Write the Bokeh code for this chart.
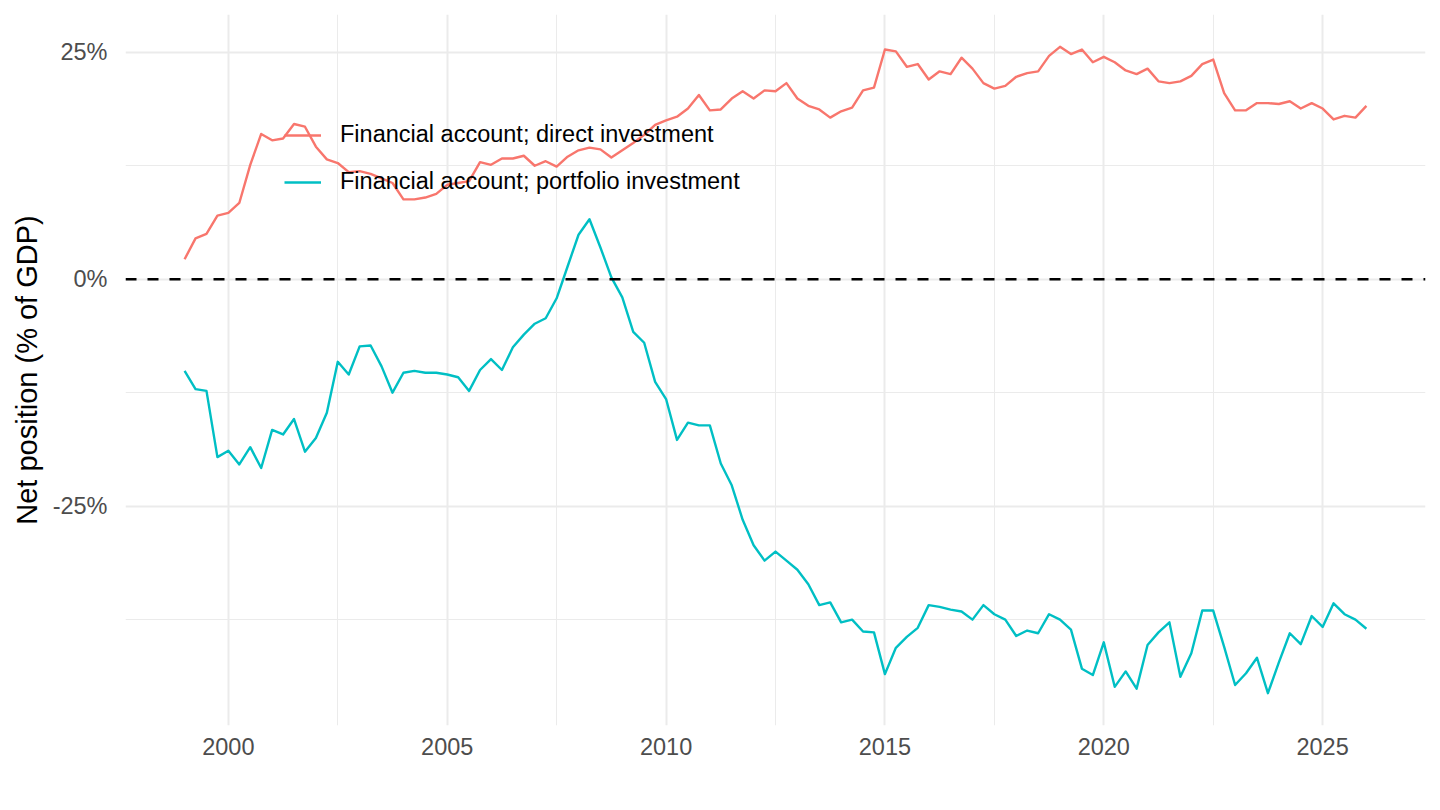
from bokeh.plotting import figure
from bokeh.models import Range1d, FixedTicker, Span, Legend, LegendItem, ColumnDataSource
from bokeh.embed import file_html
from bokeh.resources import INLINE

# ---- data (quarterly, 1999Q1 .. 2026Q1), net position in % of GDP ----
start_year = 1999
n_quarters = 109
quarter_x = [start_year + q / 4 for q in range(n_quarters)]

direct_investment = [
    2.2, 4.5, 5.0, 7.0, 7.3, 8.4, 12.6, 16.0, 15.3, 15.5,
    17.1, 16.8, 14.6, 13.2, 12.8, 11.8, 11.9, 11.6, 11.1, 10.6,
    8.8, 8.8, 9.0, 9.4, 10.4, 10.6, 10.8, 12.9, 12.6, 13.3,
    13.3, 13.6, 12.5, 13.0, 12.4, 13.5, 14.2, 14.5, 14.3, 13.4,
    14.2, 15.0, 15.9, 17.0, 17.5, 17.9, 18.8, 20.3, 18.6, 18.7,
    19.9, 20.7, 19.9, 20.8, 20.7, 21.6, 19.9, 19.1, 18.7, 17.8,
    18.5, 18.9, 20.8, 21.1, 25.3, 25.1, 23.4, 23.7, 22.0, 22.9,
    22.6, 24.4, 23.2, 21.6, 21.0, 21.3, 22.3, 22.7, 22.9, 24.6,
    25.6, 24.8, 25.3, 23.9, 24.5, 23.9, 23.0, 22.6, 23.2, 21.8,
    21.6, 21.8, 22.4, 23.7, 24.2, 20.5, 18.6, 18.6, 19.4, 19.4,
    19.3, 19.6, 18.8, 19.4, 18.8, 17.6, 18.0, 17.8, 19.1,
]

portfolio_investment = [
    -10.1, -12.1, -12.3, -19.6, -18.9, -20.4, -18.5, -20.8, -16.6, -17.1,
    -15.4, -19.0, -17.5, -14.7, -9.1, -10.5, -7.4, -7.3, -9.6, -12.5,
    -10.3, -10.1, -10.3, -10.3, -10.5, -10.8, -12.3, -10.0, -8.8, -10.0,
    -7.5, -6.1, -4.9, -4.3, -2.1, 1.4, 4.9, 6.6, 3.5, 0.2,
    -2.0, -5.8, -7.0, -11.3, -13.2, -17.7, -15.8, -16.1, -16.1, -20.3,
    -22.7, -26.5, -29.3, -31.0, -30.0, -31.0, -32.0, -33.6, -35.9, -35.6,
    -37.8, -37.5, -38.8, -38.9, -43.5, -40.6, -39.4, -38.4, -35.9, -36.1,
    -36.4, -36.6, -37.5, -35.9, -36.9, -37.5, -39.3, -38.7, -39.0, -36.9,
    -37.5, -38.6, -42.9, -43.6, -40.0, -44.9, -43.2, -45.1, -40.3, -38.9,
    -37.8, -43.8, -41.2, -36.5, -36.5, -40.5, -44.7, -43.4, -41.7, -45.6,
    -42.2, -39.0, -40.2, -37.1, -38.3, -35.7, -36.9, -37.5, -38.5,
]

series_labels = [
    "Financial account; direct investment",
    "Financial account; portfolio investment",
]

x_ticks = [2000, 2005, 2010, 2015, 2020, 2025]
x_minor = [2002.5, 2007.5, 2012.5, 2017.5, 2022.5]
y_ticks = [-25, 0, 25]
y_minor = [-37.5, -12.5, 12.5]
y_tick_labels = ["-25%", "0%", "25%"]
y_label = "Net position (% of GDP)"

# ---- ranges with ggplot-like 5% expansion ----
all_y = direct_investment + portfolio_investment
xmin, xmax = min(quarter_x), max(quarter_x)
ymin, ymax = min(all_y), max(all_y)
xpad = (xmax - xmin) * 0.05
ypad = (ymax - ymin) * 0.05

FONT = "Liberation Sans"
GRID = "#EBEBEB"

p = figure(
    width=1440, height=810,
    x_range=Range1d(xmin - xpad, xmax + xpad),
    y_range=Range1d(ymin - ypad, ymax + ypad),
    output_backend="svg", toolbar_location=None,
    min_border_left=125, min_border_right=15,
    min_border_top=14, min_border_bottom=85,
)
p.outline_line_color = None
p.background_fill_color = "white"
p.border_fill_color = "white"

# axes
p.xaxis.ticker = FixedTicker(ticks=x_ticks, minor_ticks=x_minor)
p.yaxis.ticker = FixedTicker(ticks=y_ticks, minor_ticks=y_minor)
p.xaxis.major_label_overrides = {t: str(t) for t in x_ticks}
p.yaxis.major_label_overrides = dict(zip(y_ticks, y_tick_labels))
for ax in (p.xaxis, p.yaxis):
    ax.axis_line_color = None
    ax.major_tick_line_color = None
    ax.minor_tick_line_color = None
    ax.major_tick_out = 0
    ax.major_tick_in = 0
    ax.major_label_text_font = FONT
    ax.major_label_text_font_size = "23.5px"
    ax.major_label_text_color = "#4D4D4D"
p.xaxis.major_label_standoff = 8
p.yaxis.major_label_standoff = 14
p.yaxis.axis_label = y_label
p.yaxis.axis_label_text_font = FONT
p.yaxis.axis_label_text_font_size = "29px"
p.yaxis.axis_label_text_font_style = "normal"
p.yaxis.axis_label_text_color = "black"
p.yaxis.axis_label_standoff = 7

# grid
for g in (p.xgrid, p.ygrid):
    g.grid_line_color = GRID
    g.grid_line_width = 2
    g.minor_grid_line_color = GRID
    g.minor_grid_line_width = 1

src = ColumnDataSource(dict(x=quarter_x, direct=direct_investment, portfolio=portfolio_investment))
r1 = p.line("x", "direct", source=src, line_color="#F8766D", line_width=2.4, line_join="round")
r2 = p.line("x", "portfolio", source=src, line_color="#00BFC4", line_width=2.4, line_join="round")

zero = Span(location=0, dimension="width", line_color="black", line_width=2.5, line_dash="11 11")
p.add_layout(zero)

legend = Legend(
    items=[LegendItem(label=series_labels[0], renderers=[r1]),
           LegendItem(label=series_labels[1], renderers=[r2])],
    location=(159, 530),
    margin=0, padding=0, spacing=20,
    glyph_width=37, glyph_height=26, label_height=26, label_standoff=19,
    label_text_font=FONT, label_text_font_size="23.5px", label_text_color="black",
    border_line_color=None, background_fill_alpha=0,
)
p.add_layout(legend)

open("out.html", "w").write(file_html(p, INLINE))
